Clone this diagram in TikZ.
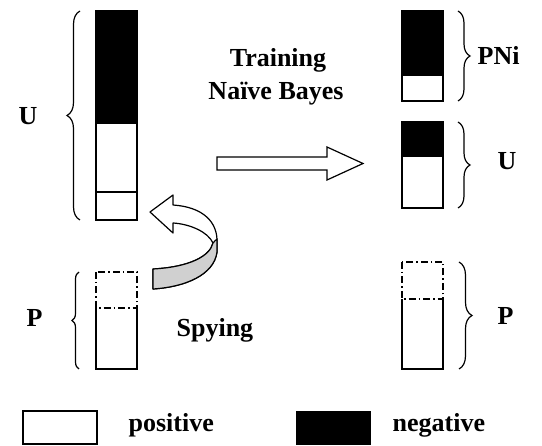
\documentclass[tikz,border=0pt]{standalone}
\usepackage{fontspec}
\setmainfont{Liberation Serif}
\usetikzlibrary{decorations.pathreplacing}
\begin{document}
\begin{tikzpicture}[x=1pt,y=-1pt,line width=1.3pt,
  lbl/.style={font=\fontsize{26}{34}\selectfont\bfseries,inner sep=0pt,anchor=base west},
  brc/.style={decorate,decoration={brace,amplitude=#1},line width=1.2pt},
  dd/.style={dash pattern=on 7pt off 3pt on 1.5pt off 3pt,line width=1.2pt}]
\useasboundingbox (0,0) rectangle (542,446);
% left U bar
\fill (96,11) rectangle (137,123);
\draw (96,11) rectangle (137,220);
\draw (96,123) -- (137,123);
\draw (96,192) -- (137,192);
\draw[brc=13pt] (80,220) -- (80,11);
\node[lbl] (uL) at (18,125) {U};
% right PNi bar
\fill (402,11) rectangle (443,76);
\draw (402,11) rectangle (443,101);
\draw[brc=12pt] (458,11) -- (458,101);
\node[lbl] (pni) at (477,65) {PNi};
% right U bar
\fill (402,122) rectangle (443,156);
\draw (402,122) rectangle (443,208);
\draw (402,156) -- (443,156);
\draw[brc=12pt] (458,122) -- (458,208);
\node[lbl] (uR) at (497,170) {U};
% training text
\node[lbl,anchor=base] (tr) at (278,67) {Training};
\node[lbl,anchor=base] (nb) at (276,100) {Naïve Bayes};
% block arrow
\draw[line width=1.2pt] (217,157) -- (327,157) -- (327,147) -- (363,163.5) -- (327,180) -- (327,170) -- (217,170) -- cycle;
% left P bar
\draw (96,308) -- (96,369) -- (137,369) -- (137,308);
\draw[dd] (96,272) rectangle (137,308);
\draw[brc=7pt] (79,369) -- (79,272);
\node[lbl] (pL) at (26,327) {P};
% right P bar
\draw (402,299) -- (402,369) -- (443,369) -- (443,299);
\draw[dd] (402,262) rectangle (443,299);
\draw[brc=13pt] (459,262) -- (459,369);
\node[lbl] (pR) at (497,325) {P};
% curved spying arrow
\draw[fill=white,line width=1.2pt,line join=round] (150,212) -- (173,195) -- (173,205)
  .. controls (203,207) and (218,222) .. (217,243) -- (217,252)
  .. controls (214,275) and (185,287) .. (153,289) -- (153,269)
  .. controls (190,267) and (210,256) .. (213,243)
  .. controls (208,232) and (190,224) .. (173,223) -- (173,233) -- cycle;
\draw[fill={rgb,255:red,208;green,208;blue,208},line width=1.2pt,line join=round]
  (213,243) .. controls (214.5,241) and (216,240) .. (217,239) -- (217,252)
  .. controls (214,275) and (185,287) .. (153,289) -- (153,269)
  .. controls (190,267) and (210,256) .. (213,243) -- cycle;
\node[lbl] (spy) at (176,337) {Spying};
% legend
\draw (23,411) rectangle (97,444);
\node[lbl] (pos) at (128,432) {positive};
\fill (296,411) rectangle (371,445);
\node[lbl] (neg) at (392,432) {negative};
\end{tikzpicture}
\end{document}
